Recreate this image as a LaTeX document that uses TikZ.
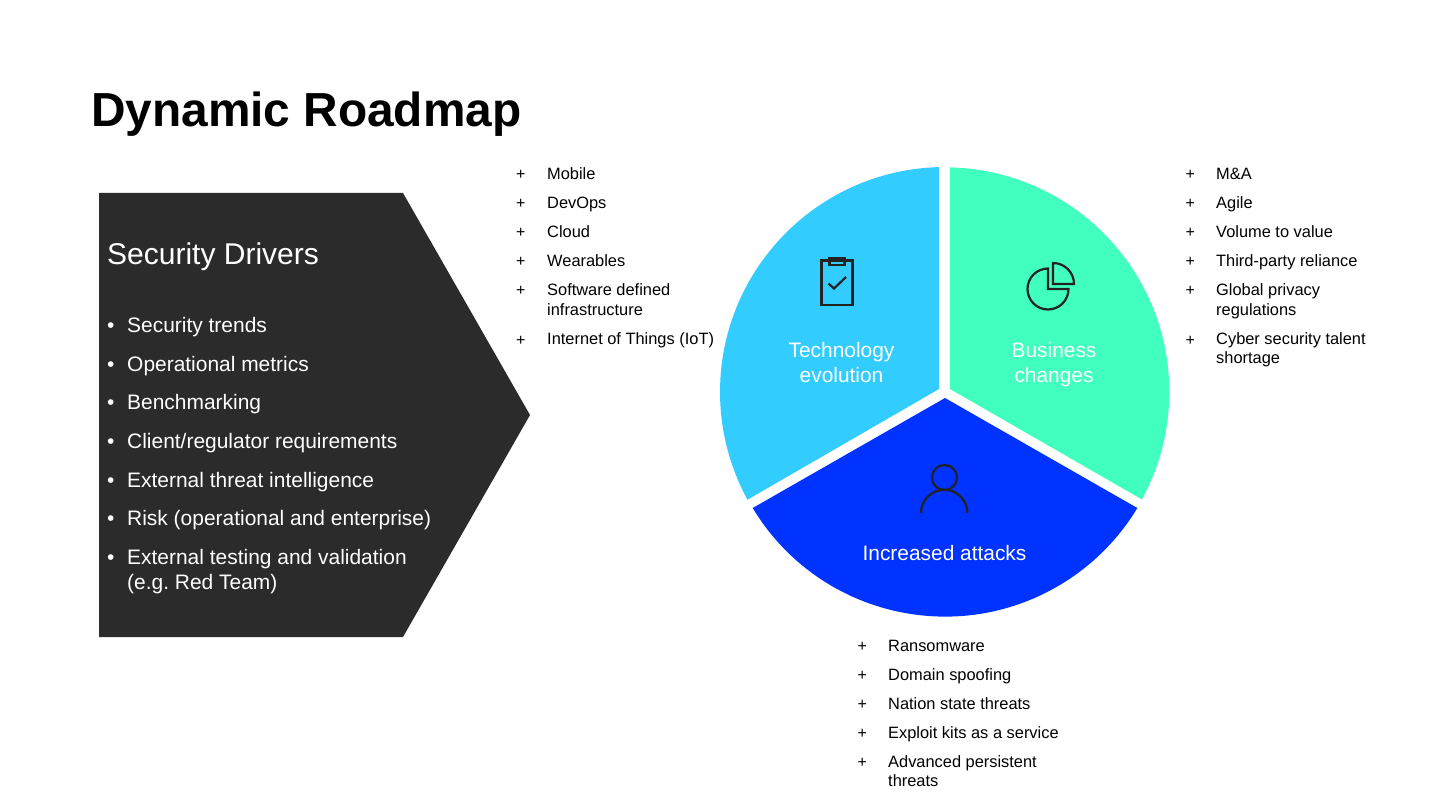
\documentclass[tikz,border=0pt]{standalone}
\usepackage{fontspec}
\setmainfont{Liberation Sans}
\frenchspacing
\definecolor{cCyan}{HTML}{33CCFF}
\definecolor{cGreen}{HTML}{40FFBF}
\definecolor{cBlue}{HTML}{0033FF}
\definecolor{cDark}{HTML}{2B2B2B}
\definecolor{cIcon}{HTML}{222222}
\newcommand{\fs}[1]{\fontsize{#1}{#1}\selectfont}
\tikzset{
 title/.style={anchor=base west,inner sep=0pt,font=\fs{47.8}\bfseries,text=black},
 head/.style={anchor=base west,inner sep=0pt,font=\fs{30},text=white},
 drv/.style={anchor=base west,inner sep=0pt,font=\fs{20.95},text=white},
 seg/.style={anchor=base,inner sep=0pt,font=\fs{20.9},text=white},
 itm/.style={anchor=base west,inner sep=0pt,font=\fs{16.4},text=black},
 plus/.style={anchor=base west,inner sep=0pt,font=\fs{16},text=black},
 icon/.style={draw=cIcon,line width=2.2pt,fill=none},
}
\begin{document}
\begin{tikzpicture}[x=1pt,y=-1pt]
\useasboundingbox (0,0) rectangle (1440,810);
\fill[white] (0,0) rectangle (1440,810);
\node[title] (ttl) at (91,127) {Dynamic Roadmap};
% chevron
\fill[cDark] (99,193) -- (403,193) -- (530,415) -- (403,637) -- (99,637) -- cycle;
\node[head] (sd) at (107,265) {Security Drivers};
\foreach \n/\y/\t in {a/332/Security trends,b/371/Operational metrics,c/409/Benchmarking,d/448/Client\slash regulator requirements,e/487/External threat intelligence,f/525/Risk (operational and enterprise),g/564/External testing and validation}{
  \node[drv] (dot\n) at (107,\y) {•};
  \node[drv] (drv\n) at (127,\y) {\t};
}
\node[drv] (drvh) at (127,589) {(e.g. Red Team)};
% pie
\fill[cCyan] (939,389) -- (939,167.1) arc[start angle=91.53,end angle=208.6,radius=225pt] -- cycle;
\fill[cGreen] (950,389) -- (950,167.4) arc[start angle=88.65,end angle=-28.6,radius=224.6pt] -- cycle;
\fill[cBlue] (945,398) -- (752.7,508) arc[start angle=211.1,end angle=328.9,radius=224.6pt] -- cycle;
\node[seg] (s1a) at (841.5,357) {Technology};
\node[seg] (s1b) at (841.5,382) {evolution};
\node[seg] (s2a) at (1054,357) {Business};
\node[seg] (s2b) at (1054,382) {changes};
\node[seg] (s3) at (944.5,560) {Increased attacks};
% clipboard icon
\draw[icon] (821.5,260.5) rectangle (852.5,305);
\draw[icon] (829.5,258.5) rectangle (844.5,265);
\draw[icon] (828.5,283.5) -- (834,288.5) -- (846,277);
% pie icon
\draw[icon] (1048,268.5) arc[start angle=90,end angle=360,radius=20.5pt] -- (1048,289) -- cycle;
\draw[icon] (1053,284) -- (1053,263) arc[start angle=90,end angle=0,radius=21pt] -- cycle;
% person icon
\draw[icon] (944.5,477.5) circle[radius=12.5pt];
\draw[icon] (921,513) arc[start angle=180,end angle=0,radius=23.2pt];
% left list
\foreach \n/\y/\t in {a/180/Mobile,b/209/DevOps,c/238/Cloud,d/267/Wearables,e/296/Software defined,f/316/infrastructure,g/344.5/Internet of Things (IoT)}{
  \node[itm] (la\n) at (547,\y) {\t};
}
\foreach \n/\y in {a/180,b/209,c/238,d/267,e/296,g/345}{
  \node[plus] (lp\n) at (516,\y) {+};
}
% right list
\foreach \n/\y/\t in {a/180/M\&A,b/209/Agile,c/238/Volume to value,d/267/Third-party reliance,e/296/Global privacy,f/316/regulations,g/344.5/Cyber security talent,h/363.5/shortage}{
  \node[itm] (ra\n) at (1216,\y) {\t};
}
\foreach \n/\y in {a/180,b/209,c/238,d/267,e/296,g/345}{
  \node[plus] (rp\n) at (1185.5,\y) {+};
}
% bottom list
\foreach \n/\y/\t in {a/651.5/Ransomware,b/680.5/Domain spoofing,c/709.5/Nation state threats,d/738.5/Exploit kits as a service,e/767/Advanced persistent,f/786.5/threats}{
  \node[itm] (ba\n) at (888,\y) {\t};
}
\foreach \n/\y in {a/651.5,b/680.5,c/709.5,d/738.5,e/767}{
  \node[plus] (bp\n) at (857.5,\y) {+};
}
\end{tikzpicture}
\end{document}
